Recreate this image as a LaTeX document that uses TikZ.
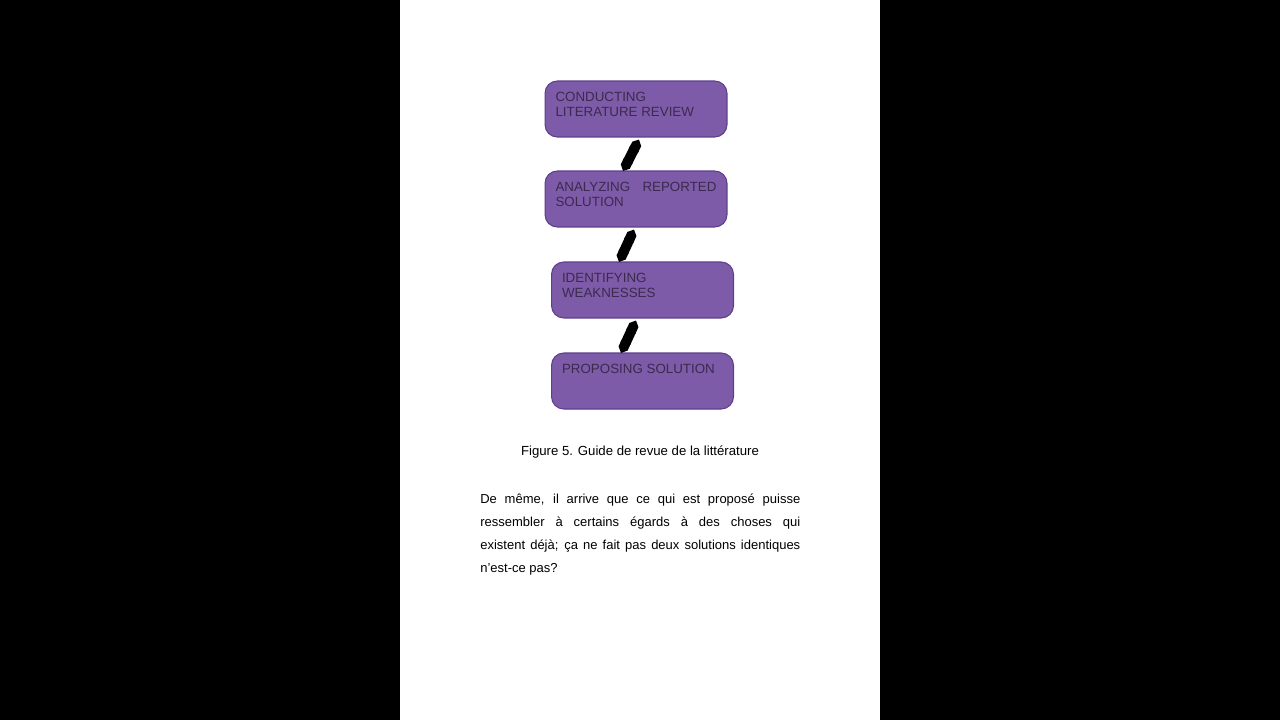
\documentclass[tikz,border=0pt]{standalone}
\usepackage{fontspec}
\setmainfont{Liberation Sans}
\usepackage{tikz}
\usetikzlibrary{arrows.meta}

\definecolor{stepfill}{HTML}{7E5BA8}
\definecolor{stepline}{HTML}{5C3F8C}
\definecolor{steptext}{HTML}{3A2A4E}

\newcommand{\steptxt}[1]{\parbox[c][0.98cm][t]{3.22cm}{\vspace*{4.5pt}\fontsize{7.6}{8.6}\selectfont #1}}

\begin{document}
\begin{tikzpicture}[
		x=0.02cm, y=-0.02cm,
		every node/.style={inner sep=0pt},
		stepbox/.style={rectangle, rounded corners=7pt, draw=stepline, line width=0.6pt,
			fill=stepfill, text=steptext, minimum width=3.64cm, minimum height=1.12cm},
		link/.style={line width=0.2cm, line cap=butt, {Triangle Cap[]}-{Triangle Cap[]}}
	]
  \fill[black] (0,0) rectangle (1280,720);
  \fill[white] (400,0) rectangle (880,720);
  \node (c1) [stepbox] at (636,109) {\steptxt{CONDUCTING\\LITERATURE REVIEW}};
  \node (c2) [stepbox] at (636,199) {\steptxt{ANALYZING\hfill REPORTED\\SOLUTION}};
  \node (c3) [stepbox] at (642.5,290) {\steptxt{IDENTIFYING\\WEAKNESSES}};
  \node (c4) [stepbox] at (642.5,381) {\steptxt{PROPOSING SOLUTION}};
  \draw[link] ([xshift=0.06cm, yshift=-0.04cm]c1.south) -- ([xshift=-0.26cm, yshift=-0.01cm]c2.north);
  \draw[link] ([xshift=-0.04cm, yshift=-0.04cm]c2.south) -- ([xshift=-0.47cm, yshift=-0.01cm]c3.north);
  \draw[link] ([xshift=-0.13cm, yshift=-0.04cm]c3.south) -- ([xshift=-0.43cm, yshift=-0.01cm]c4.north);
  \node (caption) at (640,452) {\fontsize{7.5}{9}\selectfont Figure 5. Guide de revue de la littérature};
  \node (para) [anchor=north west, text width=6.4cm, align=justify, font={\fontsize{7.4}{13}\selectfont}] at (480,494)
    {De même, il arrive que ce qui est proposé puisse\linebreak ressembler à certains égards à des choses qui\linebreak existent déjà; ça ne fait pas deux solutions identiques\linebreak n'est-ce pas?};
\end{tikzpicture}
\end{document}
